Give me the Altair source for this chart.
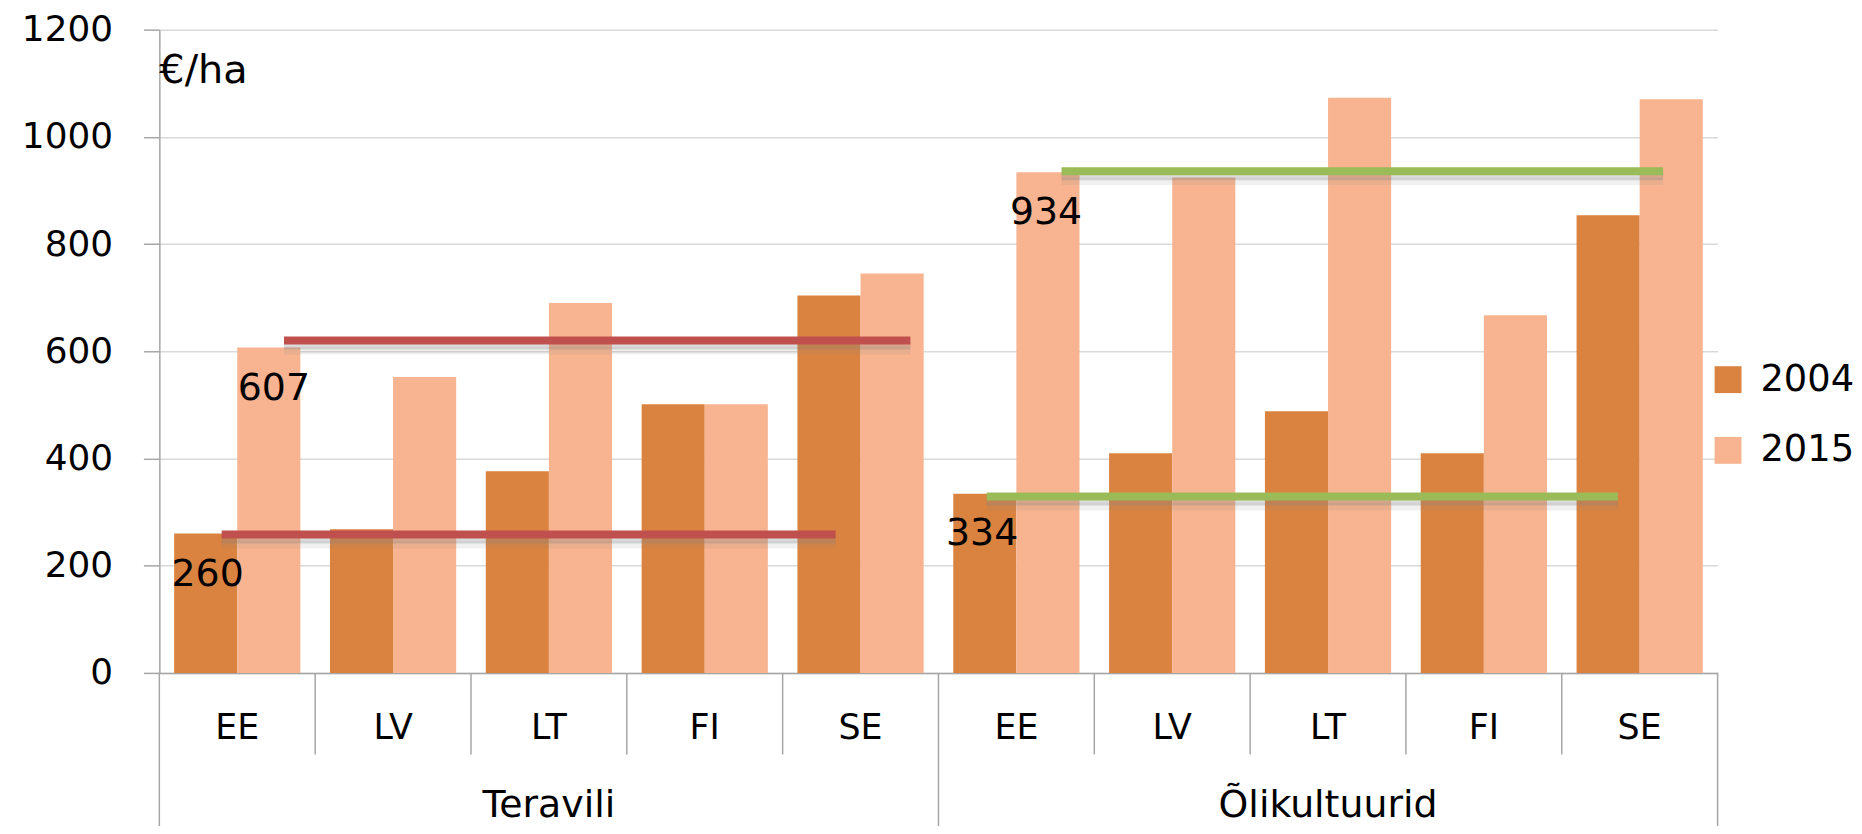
import altair as alt
import pandas as pd

# ---------------- data ----------------
groups = ["Teravili", "Õlikultuurid"]
countries = ["EE", "LV", "LT", "FI", "SE"]
years = ["2004", "2015"]
teravili_2004 = [260, 268, 376, 501, 704]
teravili_2015 = [607, 552, 690, 501, 745]
oli_2004 = [334, 410, 488, 410, 854]
oli_2015 = [934, 924, 1073, 667, 1070]

# hand-drawn reference lines (level as drawn, label text)
ref_labels = ["607", "260", "934", "334"]
ref_levels = [620, 258, 936, 329]
ref_colors = ["#C0504D", "#C0504D", "#9BBB59", "#9BBB59"]
# extent of each line, in category-band units (0..10)
ref_start = [0.80, 0.40, 5.79, 5.31]
ref_end = [4.82, 4.34, 9.65, 9.36]
# label anchor (band units, value units)
label_x = [0.735, 0.31, 5.69, 5.28]
label_y = [530, 183, 858, 259]

y_ticks = [0, 200, 400, 600, 800, 1000, 1200]
unit_label = "€/ha"

FONT = "DejaVu Sans"
GRAY = "#A6A6A6"
H = 646

# ---------------- tables ----------------
rows = []
series = {("Teravili", "2004"): teravili_2004, ("Teravili", "2015"): teravili_2015,
          ("Õlikultuurid", "2004"): oli_2004, ("Õlikultuurid", "2015"): oli_2015}
for (g, yr), vals in series.items():
    for c, v in zip(countries, vals):
        rows.append({"key": f"{g}|{c}", "year": yr, "value": v})
bar_df = pd.DataFrame(rows)
cat_order = [f"{g}|{c}" for g in groups for c in countries]

ref_df = pd.DataFrame({"label": ref_labels, "level": ref_levels, "color": ref_colors,
                       "start": ref_start, "end": ref_end, "lx": label_x, "ly": label_y})
short_sep = pd.DataFrame({"pos": [1, 2, 3, 4, 6, 7, 8, 9]})
long_sep = pd.DataFrame({"pos": [0, 5, 10]})
group_df = pd.DataFrame({"group": groups, "gx": [2.5, 7.5]})

qx = alt.Scale(domain=[0, 10], nice=False, zero=False)
ys = alt.Scale(domain=[0, 1200], nice=False)
y_axis = alt.Axis(values=y_ticks, format="d", title=None, tickSize=16, tickColor=GRAY, tickWidth=1.5,
                  gridColor="#D9D9D9", gridWidth=1.5, domainColor=GRAY, domainWidth=1.5,
                  labelFontSize=36, labelFont=FONT, labelColor="black", labelPadding=31)

bars = alt.Chart(bar_df).mark_bar().encode(
    x=alt.X("key:N", sort=cat_order,
            scale=alt.Scale(paddingInner=0.19, paddingOuter=0.095),
            axis=alt.Axis(title=None, labelExpr="split(datum.label, '|')[1]", labelAngle=0,
                          labelFontSize=35, labelFont=FONT, labelColor="black",
                          labelPadding=55, labelBaseline="middle", ticks=False, tickSize=0,
                          domainColor=GRAY, domainWidth=1.5, grid=False)),
    xOffset=alt.XOffset("year:N", sort=years, scale=alt.Scale(paddingInner=0, paddingOuter=0)),
    y=alt.Y("value:Q", scale=ys, axis=y_axis),
    color=alt.Color("year:N", scale=alt.Scale(domain=years, range=["#DA8340", "#F8B490"]),
                    legend=alt.Legend(title=None, orient="none", legendX=1557, legendY=333,
                                      symbolType="square", symbolSize=729, symbolStrokeWidth=0,
                                      labelFontSize=37, labelFont=FONT, labelColor="black",
                                      labelOffset=14, rowPadding=33)),
)

shadow1 = alt.Chart(ref_df).mark_rule(strokeWidth=8, color="#808080", opacity=0.28, yOffset=5).encode(
    x=alt.X("start:Q", scale=qx, axis=None), x2="end:Q",
    y=alt.Y("level:Q", scale=ys, axis=y_axis))
shadow2 = alt.Chart(ref_df).mark_rule(strokeWidth=8, color="#808080", opacity=0.12, yOffset=10).encode(
    x=alt.X("start:Q", scale=qx, axis=None), x2="end:Q",
    y=alt.Y("level:Q", scale=ys, axis=y_axis))
lines = alt.Chart(ref_df).mark_rule(strokeWidth=8, strokeCap="butt").encode(
    x=alt.X("start:Q", scale=qx, axis=None), x2="end:Q",
    y=alt.Y("level:Q", scale=ys, axis=y_axis),
    color=alt.Color("color:N", scale=None))
labels = alt.Chart(ref_df).mark_text(font=FONT, fontSize=38, color="black",
                                     align="center", baseline="middle").encode(
    x=alt.X("lx:Q", scale=qx, axis=None),
    y=alt.Y("ly:Q", scale=ys, axis=y_axis),
    text="label:N")
seps_short = alt.Chart(short_sep).mark_rule(color=GRAY, strokeWidth=1.5).encode(
    x=alt.X("pos:Q", scale=qx, axis=None), y=alt.value(H), y2=alt.value(H + 82))
seps_long = alt.Chart(long_sep).mark_rule(color=GRAY, strokeWidth=1.5).encode(
    x=alt.X("pos:Q", scale=qx, axis=None), y=alt.value(H), y2=alt.value(H + 166))
group_text = alt.Chart(group_df).mark_text(font=FONT, fontSize=38, color="black",
                                           align="center", baseline="middle").encode(
    x=alt.X("gx:Q", scale=qx, axis=None), y=alt.value(H + 134), text="group:N")
unit_text = alt.Chart(pd.DataFrame({"t": [unit_label]})).mark_text(
    font=FONT, fontSize=40, color="black", align="left", baseline="alphabetic").encode(
    x=alt.value(0), y=alt.value(54), text="t:N")

overlay = alt.layer(shadow2, shadow1, lines, labels, seps_short, seps_long, group_text, unit_text)

chart = alt.layer(bars, overlay).resolve_scale(x="independent").properties(
    width=1565, height=H,
    padding={"left": 152, "top": 20, "right": 137, "bottom": 152},
    autosize=alt.AutoSizeParams(type="none"),
).configure_view(stroke=None)

chart.save("out.html", embed_options={"renderer": "svg", "actions": False})
